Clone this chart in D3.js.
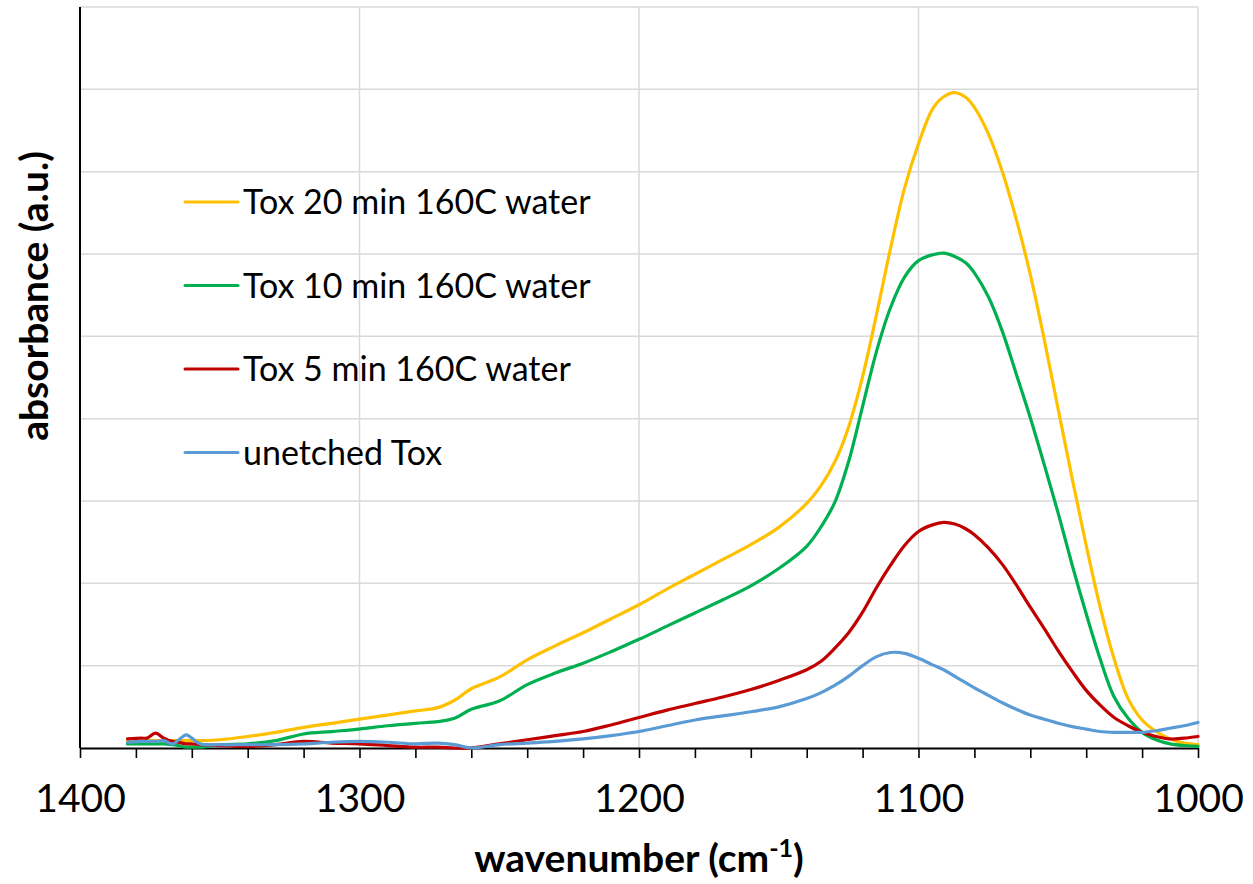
<!DOCTYPE html>
<html>
<head>
<meta charset="utf-8">
<script src="https://cdn.jsdelivr.net/npm/d3@7"></script>
<style>
  body { margin: 0; background: #fff; }
  #chart { width: 1253px; height: 884px; }
  text { font-family: Lato, "Open Sans", sans-serif; fill: #000; }
</style>
</head>
<body>
<div id="chart"></div>
<script>

//////// DATA ////////
var wavenumbers = [1383, 1378, 1376, 1373, 1370, 1367, 1365, 1362, 1360, 1357,
    1350, 1340, 1330, 1320, 1310, 1300, 1290, 1280, 1272, 1266,
    1260, 1250, 1240, 1230, 1220, 1210, 1200, 1190, 1180, 1170,
    1160, 1150, 1140, 1135, 1130, 1125, 1120, 1115, 1110, 1105,
    1100, 1095, 1091, 1087, 1083, 1080, 1075, 1070, 1065, 1060,
    1055, 1050, 1045, 1040, 1035, 1030, 1025, 1020, 1015, 1010,
    1005, 1000];

var tox20 = [0.09, 0.09, 0.09, 0.09, 0.09, 0.09, 0.09, 0.09, 0.09, 0.09,
    0.10, 0.14, 0.19, 0.25, 0.30, 0.35, 0.40, 0.45, 0.49, 0.58,
    0.72, 0.86, 1.07, 1.24, 1.40, 1.57, 1.74, 1.93, 2.11, 2.29,
    2.47, 2.68, 2.97, 3.18, 3.47, 3.90, 4.51, 5.27, 6.07, 6.80,
    7.34, 7.76, 7.91, 7.96, 7.90, 7.78, 7.46, 7.00, 6.42, 5.75,
    4.96, 4.11, 3.27, 2.46, 1.71, 1.08, 0.60, 0.34, 0.20, 0.11,
    0.06, 0.04];

var tox10 = [0.05, 0.05, 0.05, 0.05, 0.05, 0.04, 0.03, 0.01, 0.01, 0.01,
    0.04, 0.05, 0.09, 0.17, 0.20, 0.23, 0.27, 0.30, 0.32, 0.36,
    0.47, 0.57, 0.77, 0.91, 1.03, 1.17, 1.32, 1.48, 1.64, 1.80,
    1.97, 2.18, 2.45, 2.68, 2.98, 3.48, 4.15, 4.82, 5.35, 5.72,
    5.92, 5.99, 6.01, 5.97, 5.89, 5.77, 5.48, 5.06, 4.54, 4.01,
    3.44, 2.85, 2.22, 1.63, 1.08, 0.62, 0.36, 0.19, 0.10, 0.05,
    0.03, 0.02];

var tox5 = [0.11, 0.12, 0.12, 0.18, 0.12, 0.08, 0.07, 0.05, 0.05, 0.04,
    0.03, 0.02, 0.04, 0.08, 0.06, 0.05, 0.03, 0.01, 0.01, 0.00,
    0.00, 0.05, 0.10, 0.15, 0.20, 0.28, 0.37, 0.46, 0.54, 0.62,
    0.71, 0.82, 0.95, 1.05, 1.21, 1.40, 1.65, 1.95, 2.22, 2.46,
    2.63, 2.71, 2.74, 2.72, 2.66, 2.59, 2.43, 2.23, 1.98, 1.71,
    1.45, 1.18, 0.93, 0.70, 0.52, 0.37, 0.27, 0.19, 0.14, 0.11,
    0.12, 0.14];

var unetched = [0.07, 0.08, 0.08, 0.08, 0.09, 0.05, 0.09, 0.16, 0.12, 0.05,
    0.04, 0.04, 0.04, 0.05, 0.07, 0.08, 0.07, 0.05, 0.06, 0.04,
    0.00, 0.04, 0.06, 0.08, 0.11, 0.15, 0.20, 0.27, 0.34, 0.39,
    0.44, 0.50, 0.60, 0.67, 0.76, 0.87, 1.00, 1.11, 1.16, 1.15,
    1.09, 1.01, 0.95, 0.87, 0.79, 0.73, 0.64, 0.55, 0.47, 0.40,
    0.35, 0.30, 0.26, 0.23, 0.20, 0.19, 0.19, 0.19, 0.21, 0.24,
    0.27, 0.31];

var seriesNames = ["Tox 20 min 160C water", "Tox 10 min 160C water", "Tox 5 min 160C water", "unetched Tox"];
var xTickLabels = [1400, 1300, 1200, 1100, 1000];
var yGridValues = [1, 2, 3, 4, 5, 6, 7, 8, 9];

var series = [tox20, tox10, tox5, unetched].map(function(vals, i) {
    return {
        name: seriesNames[i],
        values: vals.map(function(v, j) { return {w: wavenumbers[j], v: v}; })
    };
});


//////// CANVAS ////////
var outerWidth = 1253,
    outerHeight = 884,
    margin = {top: 7, right: 55, bottom: 136, left: 80},
    width = outerWidth - margin.left - margin.right,
    height = outerHeight - margin.top - margin.bottom;

var svg = d3.select("#chart").append("svg")
    .attr("width", outerWidth)
    .attr("height", outerHeight);

var g = svg.append("g")
    .attr("transform", "translate(" + margin.left + "," + margin.top + ")");


//////// SCALES ////////
var xScale = d3.scaleLinear()
    .domain([1400, 1000])
    .range([0, width]);

var yScale = d3.scaleLinear()
    .domain([0, 9])
    .range([height, 0]);

var colorScale = d3.scaleOrdinal()
    .domain(seriesNames)
    .range(["#FFC000", "#00B050", "#C00000", "#5B9BD5"]);


//////// GRID ////////
g.append("g")
    .selectAll("line")
    .data(yGridValues)
    .enter().append("line")
        .attr("x1", 0)
        .attr("x2", width)
        .attr("y1", function(d) { return yScale(d); })
        .attr("y2", function(d) { return yScale(d); })
        .attr("stroke", "#d9d9d9")
        .attr("stroke-width", 1.5);

g.append("g")
    .selectAll("line")
    .data(xTickLabels.slice(1))
    .enter().append("line")
        .attr("x1", function(d) { return xScale(d); })
        .attr("x2", function(d) { return xScale(d); })
        .attr("y1", 0)
        .attr("y2", height)
        .attr("stroke", "#d9d9d9")
        .attr("stroke-width", 1.5);


//////// AXES ////////
// X Axis
var xAxis = g.append("g")
    .attr("class", "x axis")
    .attr("transform", "translate(0," + height + ")")
    .call(d3.axisBottom(xScale)
        .tickValues(d3.range(1000, 1401, 20))
        .tickSize(10)
        .tickSizeOuter(0)
        .tickPadding(26)
        .tickFormat(function(d) { return xTickLabels.indexOf(d) >= 0 ? d : ""; }));

xAxis.select(".domain")
    .attr("stroke", "#000")
    .attr("stroke-width", 2);

xAxis.selectAll(".tick line")
    .attr("stroke", "#000")
    .attr("stroke-width", 1.6);

xAxis.selectAll(".tick text")
    .style("font-size", "39px")
    .style("font-family", "Lato, sans-serif");

// Y Axis (line only, no labels)
g.append("line")
    .attr("x1", 0)
    .attr("x2", 0)
    .attr("y1", 0)
    .attr("y2", height)
    .attr("stroke", "#000")
    .attr("stroke-width", 2);


//////// LINES ////////
var line = d3.line()
    .x(function(d) { return xScale(d.w); })
    .y(function(d) { return yScale(d.v); })
    .curve(d3.curveCatmullRom.alpha(0.5));

g.append("g")
    .selectAll("path")
    .data(series)
    .enter().append("path")
        .attr("d", function(d) { return line(d.values); })
        .attr("fill", "none")
        .attr("stroke", function(d) { return colorScale(d.name); })
        .attr("stroke-width", 3.2)
        .attr("stroke-linejoin", "round")
        .attr("stroke-linecap", "round");


//////// LEGEND ////////
var legend = svg.append("g")
    .attr("transform", "translate(185,202)");

var legendItem = legend.selectAll("g")
    .data(seriesNames)
    .enter().append("g")
        .attr("transform", function(d, i) { return "translate(0," + (i * 83.5) + ")"; });

legendItem.append("line")
    .attr("x1", 0)
    .attr("x2", 53)
    .attr("stroke", function(d) { return colorScale(d); })
    .attr("stroke-width", 3)
    .attr("stroke-linecap", "round");

legendItem.append("text")
    .attr("x", 58)
    .attr("y", 12)
    .style("font-size", "34px")
    .text(function(d) { return d; });


//////// TITLES ////////
var xTitle = svg.append("text")
    .attr("x", margin.left + width / 2)
    .attr("y", 872)
    .attr("text-anchor", "middle")
    .style("font-size", "39px")
    .style("font-weight", "bold");

xTitle.append("tspan").text("wavenumber (cm");
xTitle.append("tspan")
    .attr("dy", -15)
    .style("font-size", "25px")
    .text("-1");
xTitle.append("tspan")
    .attr("dy", 15)
    .text(")");

svg.append("text")
    .attr("transform", "translate(48,296) rotate(-90)")
    .attr("text-anchor", "middle")
    .style("font-size", "39px")
    .style("font-weight", "bold")
    .text("absorbance (a.u.)");

</script>
</body>
</html>
